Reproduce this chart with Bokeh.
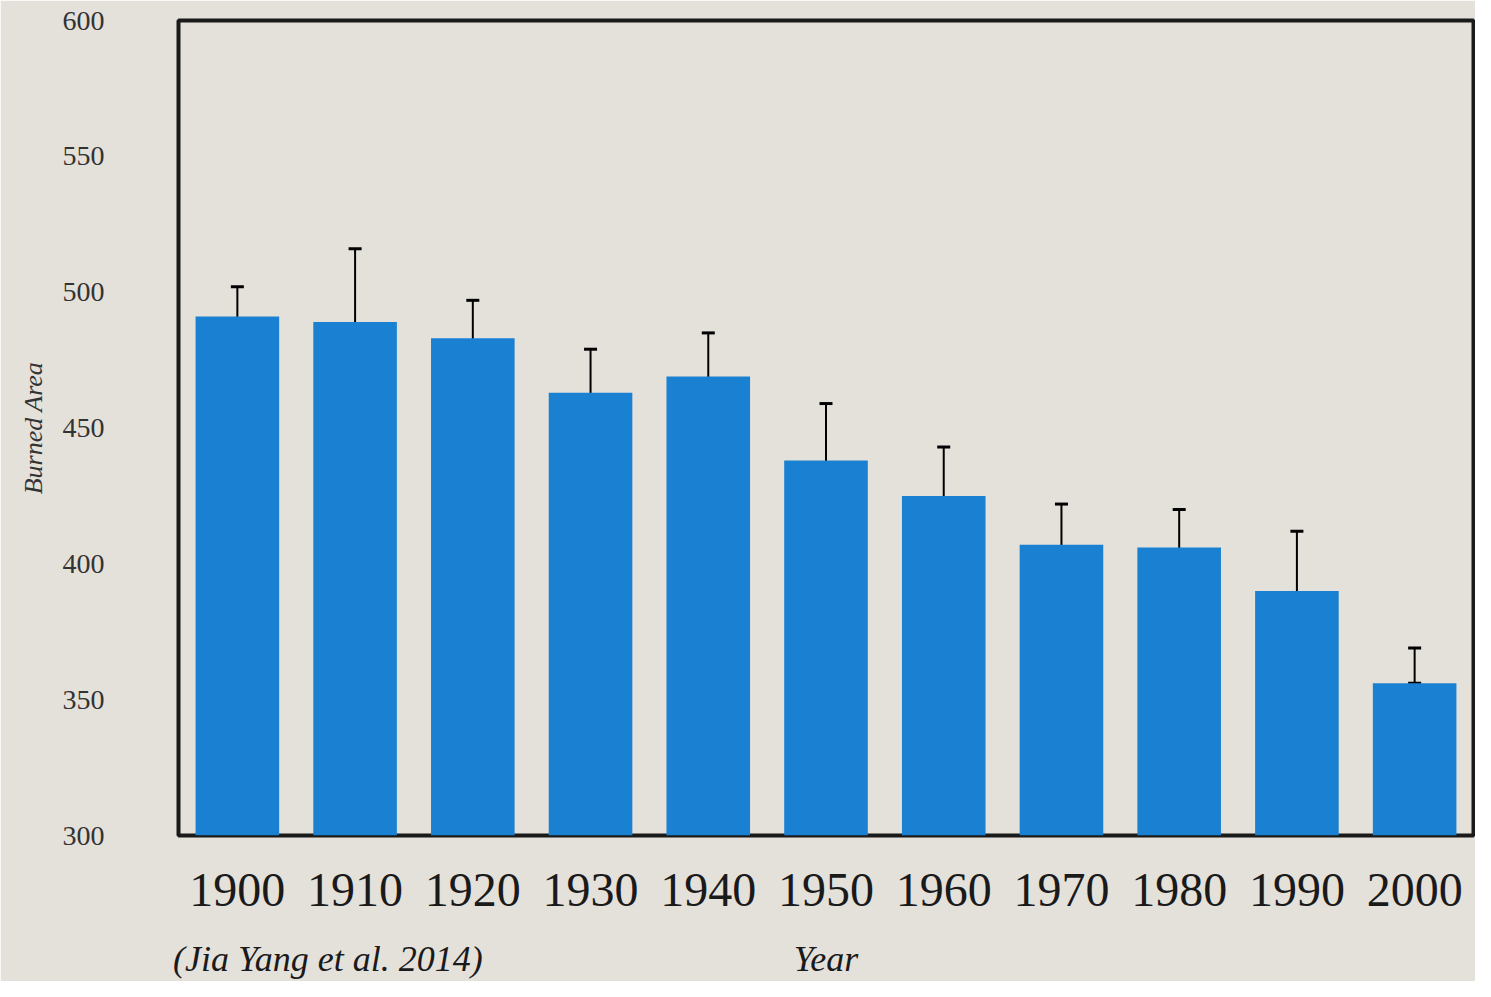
from bokeh.plotting import figure
from bokeh.models import (ColumnDataSource, Whisker, TeeHead, FixedTicker, FactorRange,
                          CategoricalAxis)
from bokeh.embed import file_html
from bokeh.resources import INLINE

years = ["1900", "1910", "1920", "1930", "1940", "1950", "1960", "1970", "1980", "1990", "2000"]
burned_area = [491, 489, 483, 463, 469, 438, 425, 407, 406, 390, 356]
err_upper = [502, 516, 497, 479, 485, 459, 443, 422, 420, 412, 369]
err_lower = [483, 465, 470, 450, 455, 419, 411, 394, 393, 369, 356]
y_ticks = [300, 350, 400, 450, 500, 550, 600]
x_title = "Year"
source_note = "(Jia Yang et al. 2014)"

BG = "#e4e1da"
BAR = "#1a80d2"
INK = "#1a1a1a"

# bottom text line: 13 equal slots across the frame; note in slot 1, title in slot 6
N_SLOTS, NOTE_SLOT, TITLE_SLOT = 13, 1, 6
strip_factors = [" " * (k + 1) for k in range(N_SLOTS)]
strip_factors[NOTE_SLOT] = source_note
strip_factors[TITLE_SLOT] = x_title

src = ColumnDataSource(data=dict(year=years, val=burned_area, upper=err_upper, lower=err_lower))

p = figure(x_range=years, y_range=(300, 600), width=1475, height=981,
           output_backend="svg", toolbar_location=None,
           min_border_left=178, min_border_right=2, min_border_top=20, min_border_bottom=0)

p.vbar(x="year", top="val", bottom=300, width=0.71, source=src, fill_color=BAR, line_color=None)

w = Whisker(base="year", upper="upper", lower="lower", source=src,
            line_color="black", line_width=2,
            upper_head=TeeHead(size=13, line_width=3, line_color="black"),
            lower_head=TeeHead(size=13, line_width=3, line_color="black"))
p.add_layout(w)

p.background_fill_color = BG
p.border_fill_color = BG
p.outline_line_color = INK
p.outline_line_width = 4
p.xgrid.visible = False
p.ygrid.visible = False

p.yaxis.ticker = FixedTicker(ticks=y_ticks)
p.yaxis.axis_line_color = None
p.yaxis.major_tick_line_color = None
p.yaxis.minor_tick_line_color = None
p.yaxis.major_label_standoff = 68
p.yaxis.major_label_text_font = "Liberation Serif"
p.yaxis.major_label_text_font_size = "28px"
p.yaxis.major_label_text_color = "#333333"
p.yaxis.axis_label = "Burned Area"
p.yaxis.axis_label_text_font = "Liberation Serif"
p.yaxis.axis_label_text_font_style = "italic"
p.yaxis.axis_label_text_font_size = "26px"
p.yaxis.axis_label_text_color = "#333333"
p.yaxis.axis_label_standoff = 12

p.xaxis.axis_line_color = None
p.xaxis.major_tick_line_color = None
p.xaxis.minor_tick_line_color = None
p.xaxis.major_label_standoff = 32
p.xaxis.major_label_text_font = "Liberation Serif"
p.xaxis.major_label_text_font_size = "48px"
p.xaxis.major_label_text_color = INK

# second, tick-less categorical axis below carrying the x title and the source note on one line
p.extra_x_ranges = {"strip": FactorRange(factors=strip_factors)}
strip = CategoricalAxis(x_range_name="strip")
strip.axis_line_color = None
strip.major_tick_line_color = None
strip.minor_tick_line_color = None
strip.major_label_standoff = 24
strip.major_label_text_font = "Liberation Serif"
strip.major_label_text_font_style = "italic"
strip.major_label_text_font_size = "36px"
strip.major_label_text_color = INK
p.add_layout(strip, "below")

open("out.html", "w").write(file_html(p, INLINE))
